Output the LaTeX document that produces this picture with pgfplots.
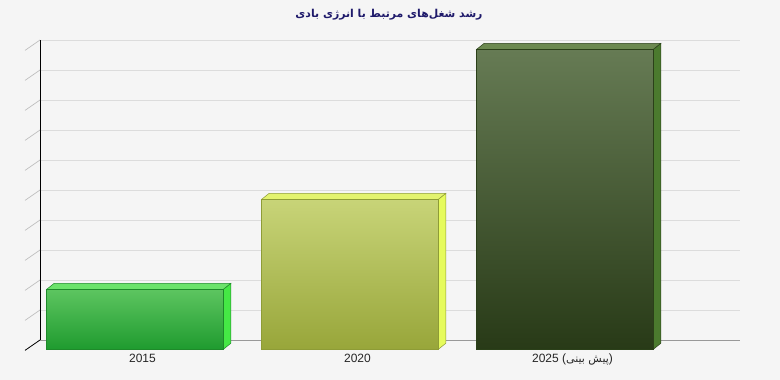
\documentclass[border=0pt]{standalone}
\usepackage{fontspec}
\usepackage{pgfplots}
\pgfplotsset{compat=1.18}
\setmainfont{Liberation Sans}
\newfontfamily\arabicfont[Script=Arabic]{DejaVu Sans}
\TeXXeTstate=1
\definecolor{bg}{HTML}{F5F5F5}
\definecolor{gridc}{HTML}{DCDCDC}
\definecolor{titlec}{HTML}{1F1A6B}
\definecolor{aT}{HTML}{5DC560}\definecolor{aB}{HTML}{1F9B2F}\definecolor{aTop}{HTML}{6BE36B}\definecolor{aSide}{HTML}{45E845}\definecolor{aE}{HTML}{1E8A2A}
\definecolor{bT}{HTML}{C8D478}\definecolor{bB}{HTML}{98A63A}\definecolor{bTop}{HTML}{E3F36E}\definecolor{bSide}{HTML}{E6FB5C}\definecolor{bE}{HTML}{8E9C36}
\definecolor{cT}{HTML}{667B54}\definecolor{cB}{HTML}{283A17}\definecolor{cTop}{HTML}{6C8950}\definecolor{cSide}{HTML}{4B7A2E}\definecolor{cE}{HTML}{2B4019}
\begin{document}
\begin{tikzpicture}
\fill[bg] (0,0) rectangle (780pt,380pt);
\node[text=titlec, font=\arabicfont\bfseries\fontsize{10.9}{13}\selectfont] at (389pt,365pt) {\beginR رشد شغل‌های مرتبط با انرژی بادی\endR};
\begin{axis}[
  at={(40pt,40pt)}, anchor=south west,
  scale only axis, width=700pt, height=300pt,
  xmin=-0.4767, xmax=2.7791, ymin=0, ymax=10,
  clip=false,
  axis x line*=bottom, axis y line*=left,
  x axis line style={draw=black!40, line width=0.8pt},
  y axis line style={draw=black, line width=0.8pt},
  ytick={0,1,...,10}, yticklabels={},
  ymajorgrids, grid style={gridc, line width=0.8pt},
  major tick length=0pt,
  xtick={0,1,2},
  xticklabels={2015,2020,{2025 ({\arabicfont\fontsize{11}{13}\selectfont\beginR پیش بینی\endR})}},
  xticklabel style={anchor=base, yshift=-22.7pt, text=black!85, font=\fontsize{12}{14}\selectfont, inner sep=0pt},
]
% left depth ticks
\pgfplotsinvokeforeach{1,...,10}{\draw[black!25, line width=0.7pt] (axis cs:-0.4767,#1) -- ++(-15pt,-10.4pt);}
\draw[black, line width=0.8pt] (axis cs:-0.4767,0) -- ++(-15pt,-10.4pt);
% bar 1
\addplot[fill=aSide, draw=aE, line width=0.5pt] coordinates {(0.3758,-0.31) (0.4107,-0.11) (0.4107,1.89) (0.3758,1.69)} --cycle;
\addplot[fill=aTop, draw=aE, line width=0.5pt] coordinates {(-0.4456,1.69) (-0.4107,1.89) (0.4107,1.89) (0.3758,1.69)} --cycle;
\addplot[ybar, bar width=176.6pt, bar shift=-7.5pt, yshift=-9.3pt, draw=aE, line width=0.5pt, top color=aT, bottom color=aB] coordinates {(0,2)};
% bar 2
\addplot[fill=bSide, draw=bE, line width=0.5pt] coordinates {(1.3758,-0.31) (1.4107,-0.11) (1.4107,4.89) (1.3758,4.69)} --cycle;
\addplot[fill=bTop, draw=bE, line width=0.5pt] coordinates {(0.5544,4.69) (0.5893,4.89) (1.4107,4.89) (1.3758,4.69)} --cycle;
\addplot[ybar, bar width=176.6pt, bar shift=-7.5pt, yshift=-9.3pt, draw=bE, line width=0.5pt, top color=bT, bottom color=bB] coordinates {(1,5)};
% bar 3
\addplot[fill=cSide, draw=cE, line width=0.5pt] coordinates {(2.3758,-0.31) (2.4107,-0.11) (2.4107,9.89) (2.3758,9.69)} --cycle;
\addplot[fill=cTop, draw=cE, line width=0.5pt] coordinates {(1.5544,9.69) (1.5893,9.89) (2.4107,9.89) (2.3758,9.69)} --cycle;
\addplot[ybar, bar width=176.6pt, bar shift=-7.5pt, yshift=-9.3pt, draw=cE, line width=0.5pt, top color=cT, bottom color=cB] coordinates {(2,10)};
\end{axis}
\end{tikzpicture}
\end{document}
